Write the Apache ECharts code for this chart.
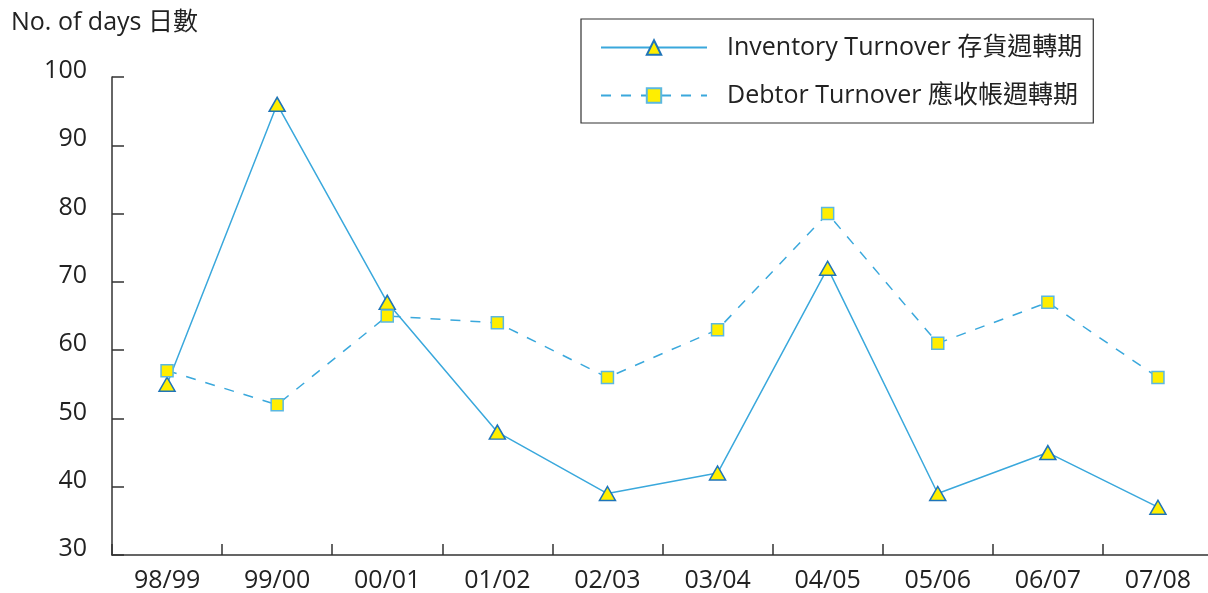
<!DOCTYPE html>
<html><head><meta charset="utf-8">
<script src="https://cdn.jsdelivr.net/npm/echarts@6/dist/echarts.min.js"></script>
<style>html,body{margin:0;padding:0;background:#fff}#c{width:1208px;height:593px}</style>
</head><body><div id="c"></div>
<script>
const categories = ['98/99','99/00','00/01','01/02','02/03','03/04','04/05','05/06','06/07','07/08'];
const inventoryTurnover = [55, 96, 67, 48, 39, 42, 72, 39, 45, 37];
const debtorTurnover = [57, 52, 65, 64, 56, 63, 80, 61, 67, 56];
const seriesNames = ['Inventory Turnover 存貨週轉期', 'Debtor Turnover 應收帳週轉期'];
const yAxisTitle = 'No. of days 日數';

const FONT = "'Open Sans', 'Noto Sans CJK TC', sans-serif";
const FS = 25;
const chart = echarts.init(document.getElementById('c'));
chart.setOption({
  animation: false,
  textStyle: { fontFamily: FONT },
  title: { text: yAxisTitle, left: 6, top: 5, textStyle: { fontFamily: FONT, fontSize: FS, fontWeight: 'normal', color: '#222' } },
  legend: {
    orient: 'vertical', left: 581, top: 19,
    borderColor: '#333', borderWidth: 1.2,
    padding: [16, 11, 15, 19],
    itemWidth: 106, itemHeight: 18, itemGap: 23,
    textStyle: { fontFamily: FONT, fontSize: FS, color: '#222', padding: [0, 0, 0, 15] },
    data: seriesNames
  },
  grid: { left: 112, top: 77, bottom: 38, right: -5, containLabel: false, outerBoundsMode: 'none' },
  xAxis: {
    type: 'category', data: categories, boundaryGap: true,
    axisLine: { lineStyle: { color: '#333', width: 1.5 } },
    axisTick: { show: true, inside: true, length: 11, alignWithLabel: false, lineStyle: { color: '#333', width: 1.5 } },
    axisLabel: { fontFamily: FONT, fontSize: FS, color: '#222', margin: 13 },
    splitLine: { show: false }
  },
  yAxis: {
    type: 'value', min: 30, max: 100, interval: 10,
    axisLine: { show: true, lineStyle: { color: '#333', width: 1.5 } },
    axisTick: { show: true, inside: true, length: 12, lineStyle: { color: '#333', width: 1.5 } },
    axisLabel: { fontFamily: FONT, fontSize: FS, color: '#222', margin: 25, verticalAlign: 'bottom', lineHeight: 12 },
    splitLine: { show: false }
  },
  series: [
    {
      name: seriesNames[0], type: 'line', data: inventoryTurnover,
      symbol: 'triangle', symbolSize: [16, 14],
      lineStyle: { color: '#3aa8dc', width: 1.5 },
      itemStyle: { color: '#ffee00', borderColor: '#1f74b8', borderWidth: 1.5 }
    },
    {
      name: seriesNames[1], type: 'line', data: debtorTurnover,
      symbol: 'rect', symbolSize: 12,
      lineStyle: { color: '#3aa8dc', width: 1.5, type: [10, 10] },
      itemStyle: { color: '#ffee00', borderColor: '#5bb8e0', borderWidth: 1.5 }
    }
  ]
});
</script></body></html>
